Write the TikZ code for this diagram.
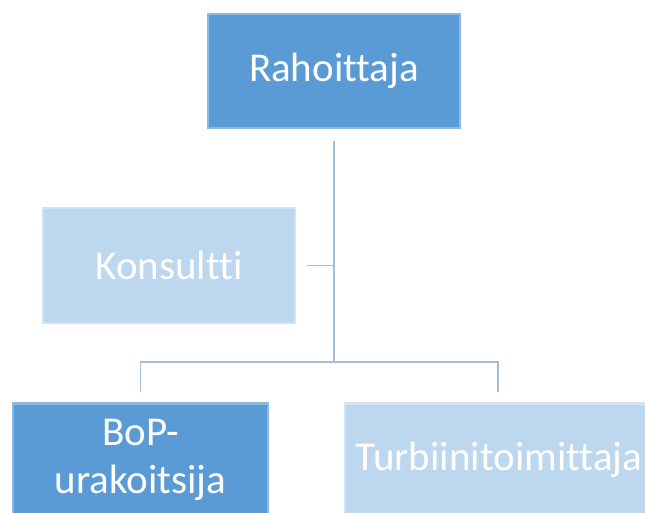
\documentclass[tikz,border=0pt]{standalone}
\usepackage{fontspec}
\setmainfont{Carlito}[Ligatures={NoCommon}]
\definecolor{darkbox}{HTML}{5B9BD5}
\definecolor{lightbox}{HTML}{BDD7EE}
\definecolor{connc}{HTML}{A3BDDA}
\begin{document}
\begin{tikzpicture}[x=1pt,y=-1pt,
  boxbase/.style={rectangle, inner sep=0pt, text=white, align=center,
    font=\fontsize{41}{48}\selectfont, line width=2.5pt},
  darkb/.style={boxbase, fill=darkbox, draw=darkbox!70!white},
  lightb/.style={boxbase, fill=lightbox, draw=lightbox!70!white},
  label/.style={text=white, align=center, font=\fontsize{41}{48}\selectfont, inner sep=0pt, anchor=base},
  conn/.style={draw=connc, line width=1.6pt}]
\path[use as bounding box] (0,0) rectangle (645,513);
\clip (0,0) rectangle (645,513);
\node[darkb, minimum width=252pt, minimum height=114pt] (rah) at (334,71) {Rahoittaja};
\node[lightb, minimum width=252pt, minimum height=115pt] (kon) at (169,265.5) {Konsultti};
\node[darkb, minimum width=255pt, minimum height=118pt, anchor=north] (bop) at (140.5,402) {};
\node[label] (boptxt) at (140.5,493) {BoP-\\urakoitsija};
\node[lightb, minimum width=306pt, minimum height=118pt, anchor=north] (tur) at (498,402) {};
\node[label] (turtxt) at (499,470) {Turbiinitoimittaja};
\coordinate (hub) at (334,362);
\draw[conn, shorten <=12pt] (rah.south) -- (hub);
\draw[conn, shorten <=11pt] (kon.east) -- (kon.east -| hub);
\draw[conn, shorten >=10pt] (hub) -| (bop.north);
\draw[conn, shorten >=10pt] (hub) -| (tur.north);
\end{tikzpicture}
\end{document}
